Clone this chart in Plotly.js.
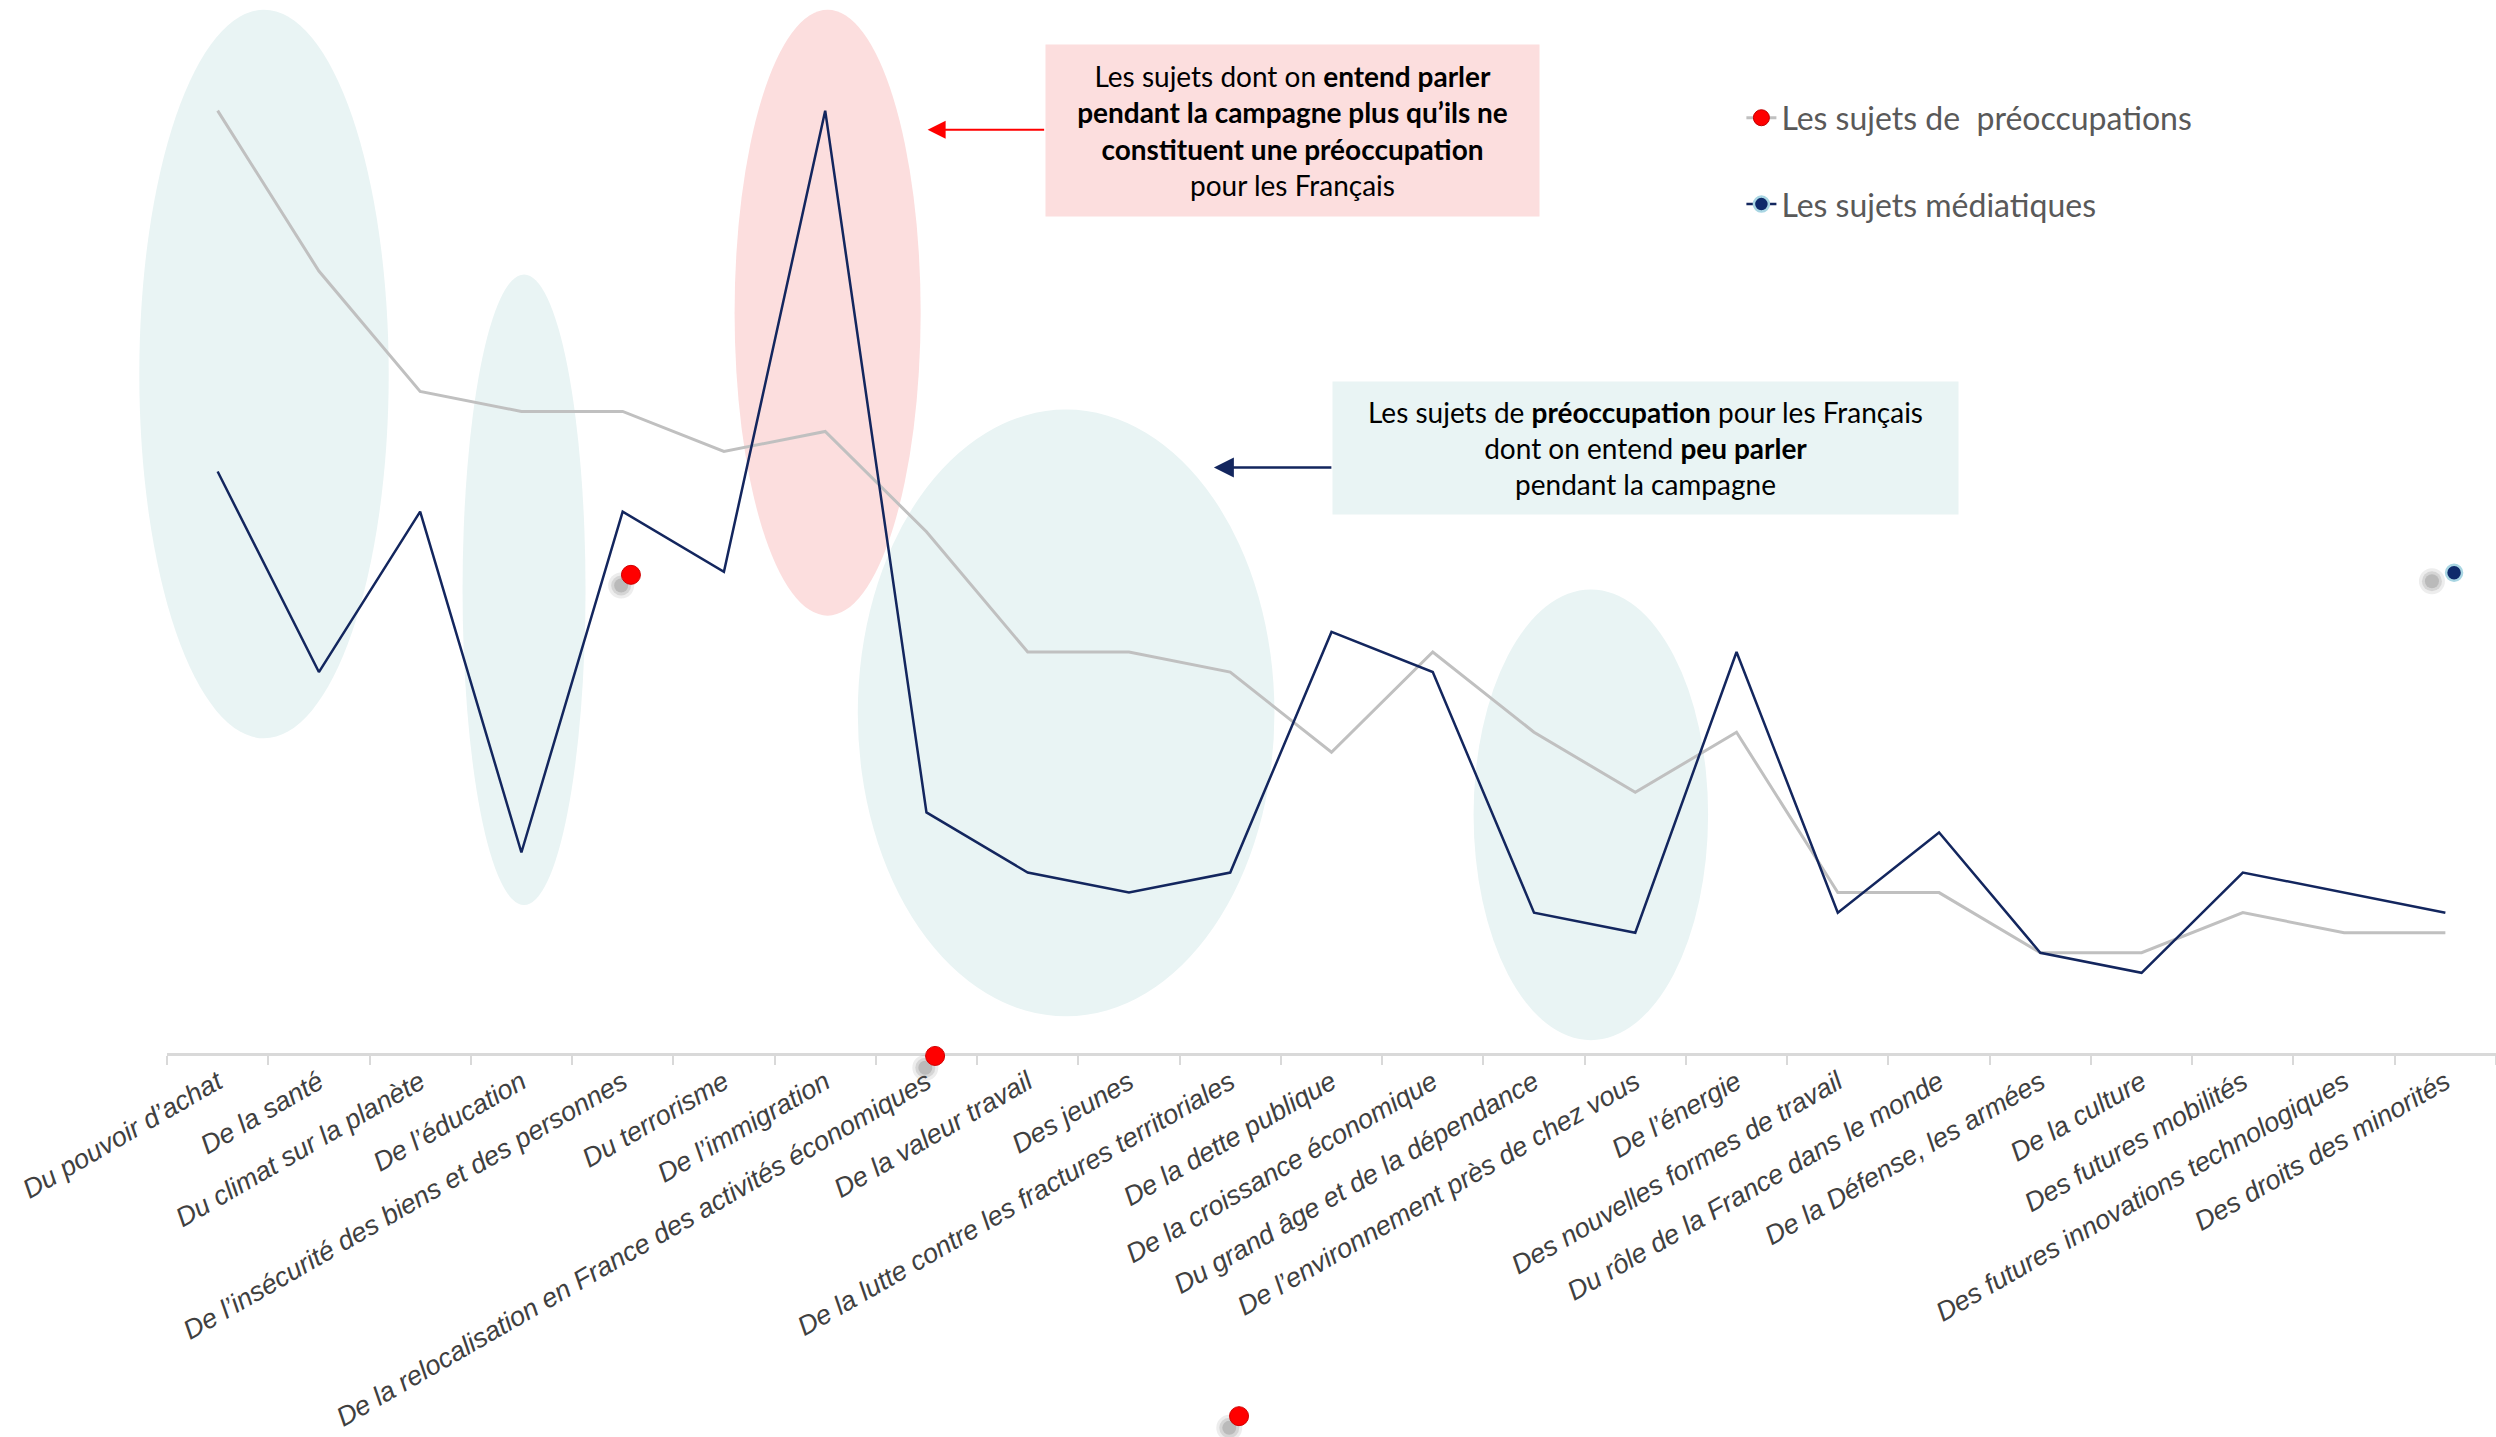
<!DOCTYPE html>
<html><head><meta charset="utf-8">
<script src="https://cdn.plot.ly/plotly-3.0.1.min.js"></script>
<style>html,body{margin:0;padding:0;background:#fff}#chart{width:2496px;height:1437px}</style>
</head><body><div id="chart"></div>
<script>
// ---- Data ----
const categories = [
  "Du pouvoir d’achat", "De la santé", "Du climat sur la planète", "De l’éducation",
  "De l’insécurité des biens et des personnes", "Du terrorisme", "De l’immigration",
  "De la relocalisation en France des activités économiques", "De la valeur travail",
  "Des jeunes", "De la lutte contre les fractures territoriales", "De la dette publique",
  "De la croissance économique", "Du grand âge et de la dépendance",
  "De l’environnement près de chez vous", "De l’énergie", "Des nouvelles formes de travail",
  "Du rôle de la France dans le monde", "De la Défense, les armées", "De la culture",
  "Des futures mobilités", "Des futures innovations technologiques", "Des droits des minorités"
];
const preoccupations = [47, 39, 33, 32, 32, 30, 31, 26, 20, 20, 19, 15, 20, 16, 13, 16, 8, 8, 5, 5, 7, 6, 6];
const mediatiques    = [29, 19, 27, 10, 27, 24, 47, 12, 9, 8, 9, 21, 19, 7, 6, 20, 7, 11, 5, 4, 9, 8, 7];
const seriesNames = ["Les sujets de \u00a0préoccupations", "Les sujets médiatiques"];
const boxTexts = [
  "Les sujets dont on <b>entend parler</b><br><b>pendant la campagne plus qu’ils ne</b><br><b>constituent une préoccupation</b><br>pour les Français",
  "Les sujets de <b>préoccupation</b> pour les Français<br>dont on entend <b>peu parler</b><br>pendant la campagne"
];

// ---- Styles ----
const GRAY = "#C0C0C0", NAVY = "#13265E", RED = "#FF0000";
const TEAL_FILL = "#E9F4F4", PINK_FILL = "#FCDEDE";

const traces = [
  {x: categories, y: preoccupations, type: "scatter", mode: "lines",
   line: {color: GRAY, width: 3}, showlegend: false, hoverinfo: "skip"},
  {x: categories, y: mediatiques, type: "scatter", mode: "lines",
   line: {color: NAVY, width: 2.5}, showlegend: false, hoverinfo: "skip"},
  // legend entries
  {x: [null], y: [null], type: "scatter", mode: "lines+markers", name: seriesNames[0],
   line: {color: GRAY, width: 3}, marker: {color: RED, size: 16, line: {color: "#C00000", width: 1}},
   legend: "legend"},
  {x: [null], y: [null], type: "scatter", mode: "lines+markers", name: seriesNames[1],
   line: {color: NAVY, width: 2.5}, marker: {color: "#0F2A6B", size: 15, line: {color: "#A9D6E3", width: 2.5}},
   legend: "legend2"}
];

// ellipse in paper coordinates (so it is not clipped by the plot area)
function ell(x0, x1, y0, y1, c) {
  return {type: "circle", xref: "paper", yref: "paper", x0: x0, x1: x1, y0: y0, y1: y1,
          fillcolor: c, line: {width: 0}, layer: "below"};
}
function dot(xa, ya, r, fill, lc, lw) {
  return {type: "circle", xref: "paper", yref: "paper", xsizemode: "pixel", ysizemode: "pixel",
          xanchor: xa, yanchor: ya, x0: -r, x1: r, y0: -r, y1: r,
          fillcolor: fill, line: {color: lc, width: lw}, layer: "above"};
}
function blurShadow(xa, ya) {
  return [
    dot(xa, ya, 13, "rgba(80,80,80,0.10)", "rgba(0,0,0,0)", 0),
    dot(xa, ya, 10, "rgba(80,80,80,0.15)", "rgba(0,0,0,0)", 0),
    dot(xa, ya, 7, "rgba(80,80,80,0.20)", "rgba(0,0,0,0)", 0)
  ];
}

const shapes = [
  ell(-0.0119, 0.0952, 0.2988, 0.9907, TEAL_FILL),
  ell(0.1269, 0.1797, 0.1405, 0.7394, TEAL_FILL),
  ell(0.2437, 0.3236, 0.4153, 0.9907, PINK_FILL),
  ell(0.2966, 0.4755, 0.0348, 0.6110, TEAL_FILL),
  ell(0.5610, 0.6617, 0.0122, 0.4402, TEAL_FILL),
  // stray marker artefacts of the original picture (shadow + sphere)
  ...blurShadow(0.1950, 0.4440),
  dot(0.1992, 0.4541, 9.5, RED, "#D00000", 1),
  ...blurShadow(0.3256, -0.0140),
  dot(0.3298, -0.0028, 9.5, RED, "#D00000", 1),
  ...blurShadow(0.4561, -0.3560),
  dot(0.4603, -0.3449, 9.5, RED, "#D00000", 1),
  ...blurShadow(0.9725, 0.4480),
  dot(0.9820, 0.4560, 8, "#0F2A6B", "#A9D6E3", 2.5)
];

const boxFont = {family: "Lato, 'Open Sans', sans-serif", size: 28, color: "#000000"};
const annotations = [
  {xref: "paper", yref: "paper", x: 0.4832, y: 0.8761, xanchor: "center", yanchor: "middle",
   text: boxTexts[0], showarrow: false, bgcolor: PINK_FILL, width: 493, height: 171, borderpad: 0,
   align: "center", valign: "middle", font: boxFont},
  {xref: "paper", yref: "paper", x: 0.6348, y: 0.5745, xanchor: "center", yanchor: "middle",
   text: boxTexts[1], showarrow: false, bgcolor: TEAL_FILL, width: 625, height: 132, borderpad: 0,
   align: "center", valign: "middle", font: boxFont},
  {xref: "paper", yref: "paper", x: 0.3266, y: 0.8767, text: "", showarrow: true,
   axref: "pixel", ayref: "pixel", ax: 118, ay: 0, arrowhead: 2, arrowsize: 1.8, arrowwidth: 2, arrowcolor: RED},
  {xref: "paper", yref: "paper", x: 0.4495, y: 0.5560, text: "", showarrow: true,
   axref: "pixel", ayref: "pixel", ax: 119, ay: 0, arrowhead: 2, arrowsize: 1.6, arrowwidth: 2.5, arrowcolor: NAVY}
];

const legendFont = {family: "Lato, 'Open Sans', sans-serif", size: 32, color: "#595959"};
const layout = {
  width: 2496, height: 1437,
  margin: {l: 167, r: 0, t: 0, b: 384, pad: 0},
  paper_bgcolor: "#FFFFFF", plot_bgcolor: "#FFFFFF",
  hovermode: false,
  xaxis: {
    type: "category", range: [-0.5, 22.5], tickmode: "linear", tick0: 0, dtick: 1,
    tickson: "boundaries", ticks: "outside", ticklen: 9, tickwidth: 2, tickcolor: "#D9D9D9",
    showline: true, linecolor: "#D9D9D9", linewidth: 3, showgrid: false, zeroline: false,
    tickangle: -30,
    tickfont: {family: "'Liberation Sans', Arial, sans-serif", size: 27, color: "#404040", style: "italic"},
    fixedrange: true
  },
  yaxis: {range: [0, 52.52], visible: false, showgrid: false, zeroline: false, fixedrange: true},
  legend: {x: 0.676, xanchor: "left", y: 0.888, yanchor: "middle", font: legendFont,
           bgcolor: "rgba(0,0,0,0)", borderwidth: 0, itemwidth: 30},
  legend2: {x: 0.676, xanchor: "left", y: 0.806, yanchor: "middle", font: legendFont,
           bgcolor: "rgba(0,0,0,0)", borderwidth: 0, itemwidth: 30},
  shapes: shapes,
  annotations: annotations
};

Plotly.newPlot("chart", traces, layout, {displayModeBar: false, staticPlot: true});
</script>
</body></html>
